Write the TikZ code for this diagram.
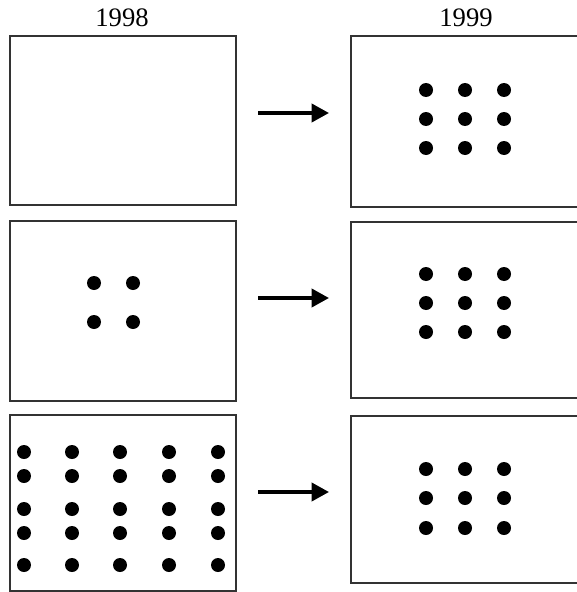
\documentclass[tikz,border=0pt]{standalone}
\usepackage{fontspec}
\setmainfont{Liberation Serif}
\usetikzlibrary{arrows.meta,positioning,fit}

\begin{document}
\begin{tikzpicture}[x=0.75pt,y=-0.75pt,>={Triangle[length=13pt,width=13.5pt]},
 frame/.style={draw=black!80,line width=0.9pt,inner sep=0pt},
 dot/.style={circle,fill=black,minimum size=10.5pt,inner sep=0pt},
 yr/.style={font=\fontsize{20}{22}\selectfont},
 arr/.style={->,line width=2.8pt}]
\clip (0,0) rectangle (577,592);
\node[yr] (y98) at (122,18) {1998}; \node[yr] (y99) at (466,18) {1999};
% 1998 panels
\node[frame,fit={(10,36) (236,205)}] (l1) {};
\node[frame,fit={(10,221) (236,401)}] (l2) {};
\node[frame,fit={(10,415) (236,591)}] (l3) {};
% 1999 panels, cut off at the right
\node[frame,fit={(351,36) (600,207)}] (r1) {};
\node[frame,fit={(351,222) (600,398)}] (r2) {};
\node[frame,fit={(351,416) (600,583)}] (r3) {};
% dots
\foreach \x in {94,133} \foreach \y in {283,322} \node[dot] at (\x,\y) {};
\foreach \x in {24,72,120,169,218} \foreach \y in {452,476,509,533,565} \node[dot] at (\x,\y) {};
\foreach \x in {426,465,504} {
  \foreach \y in {90,119,148} \node[dot] at (\x,\y) {};
  \foreach \y in {274,303,332} \node[dot] at (\x,\y) {};
  \foreach \y in {469,498,528} \node[dot] at (\x,\y) {};
}
% arrows
\coordinate (a1) at (258,113); \coordinate (b1) at (329,113);
\coordinate (a2) at (258,298); \coordinate (b2) at (329,298);
\coordinate (a3) at (258,492); \coordinate (b3) at (329,492);
\draw[arr] (a1)--(b1); \draw[arr] (a2)--(b2); \draw[arr] (a3)--(b3);
\end{tikzpicture}
\end{document}
